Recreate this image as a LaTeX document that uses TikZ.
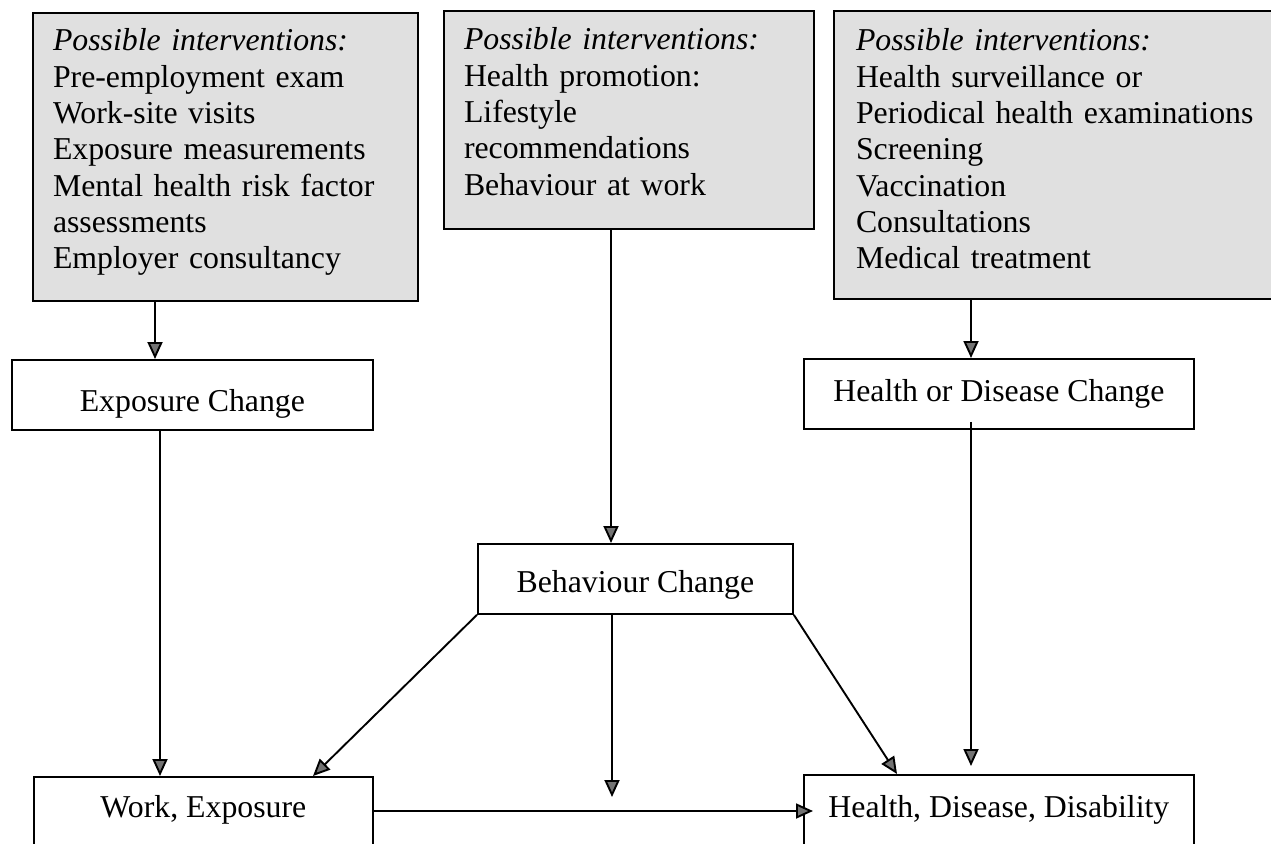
\documentclass[tikz,border=0pt]{standalone}
\usepackage{fontspec}
\setmainfont{Liberation Serif}
\usetikzlibrary{arrows.meta,calc}
\begin{document}
\begin{tikzpicture}[x=1pt,y=-1pt,
  every node/.style={font=\fontsize{31.8}{36.3}\selectfont, inner sep=0pt},
  gbox/.style={draw, line width=2pt, fill=black!12, anchor=north west, align=left, inner xsep=20pt, inner ysep=0pt},
  wbox/.style={draw, line width=1.8pt, fill=white, anchor=north west, inner sep=0pt},
  arr/.style={line width=1.9pt, -{Triangle[length=17pt,width=15pt,fill=black!55]}}]
\useasboundingbox (0,0) rectangle (1271,843);
\clip (0,0) rectangle (1271,843);
\fill[white] (0,0) rectangle (1271,843);

% intervention boxes
\node[gbox, text width=345pt, text height=38pt, text depth=250pt] (A) at (32,12)
  {\textit{Possible interventions:}\\Pre-employment exam\\Work-site visits\\Exposure measurements\\Mental health risk factor\\assessments\\Employer consultancy};
\node[gbox, text width=330pt, text height=39pt, text depth=179pt] (B) at (443,10)
  {\textit{Possible interventions:}\\Health promotion:\\Lifestyle\\recommendations\\Behaviour at work};
\node[gbox, inner xsep=22pt, text width=420pt, text height=40pt, text depth=248pt] (C) at (833,10)
  {\textit{Possible interventions:}\\Health surveillance or\\Periodical health examinations\\Screening\\Vaccination\\Consultations\\Medical treatment};

% change boxes
\node[wbox, minimum width=361pt, text height=52pt, text depth=18pt] (EC) at (11,359) {Exposure Change};
\node[wbox, minimum width=390pt, text height=43pt, text depth=27pt] (HDC) at (803,358) {Health or Disease Change};
\node[wbox, minimum width=315pt, text height=48.7pt, text depth=21.3pt] (Beh) at (477,543) {Behaviour Change};

% outcome boxes
\node[wbox, minimum width=339pt, text height=41pt, text depth=80pt] (Work) at (33,776) {Work, Exposure};
\node[wbox, minimum width=390pt, text height=43pt, text depth=80pt] (HDD) at (803,774) {Health, Disease, Disability};

\coordinate (mid) at (612,797);

% connectors
\draw[arr] (A.south -| 155,0) -- (EC.north -| 155,0);
\draw[arr] (B.south -| 611,0) -- (Beh.north -| 611,0);
\draw[arr] (C.south -| 971,0) -- (HDC.north -| 971,0);
\draw[arr] (EC.south -| 160,0) -- (Work.north -| 160,0);
\draw[arr] ($(HDC.south -| 971,0)+(0,-8)$) -- ($(HDD.north -| 971,0)+(0,-8)$);
\draw[arr] (Beh.south west) -- (Work.north -| 313,0);
\draw[arr] (Beh.south -| 612,0) -- (mid);
\draw[arr] (Beh.south east) -- (HDD.north -| 897,0);
\draw[arr] (Work.east |- 0,811) -- ($(HDD.west |- 0,811)+(10,0)$);
\end{tikzpicture}
\end{document}
